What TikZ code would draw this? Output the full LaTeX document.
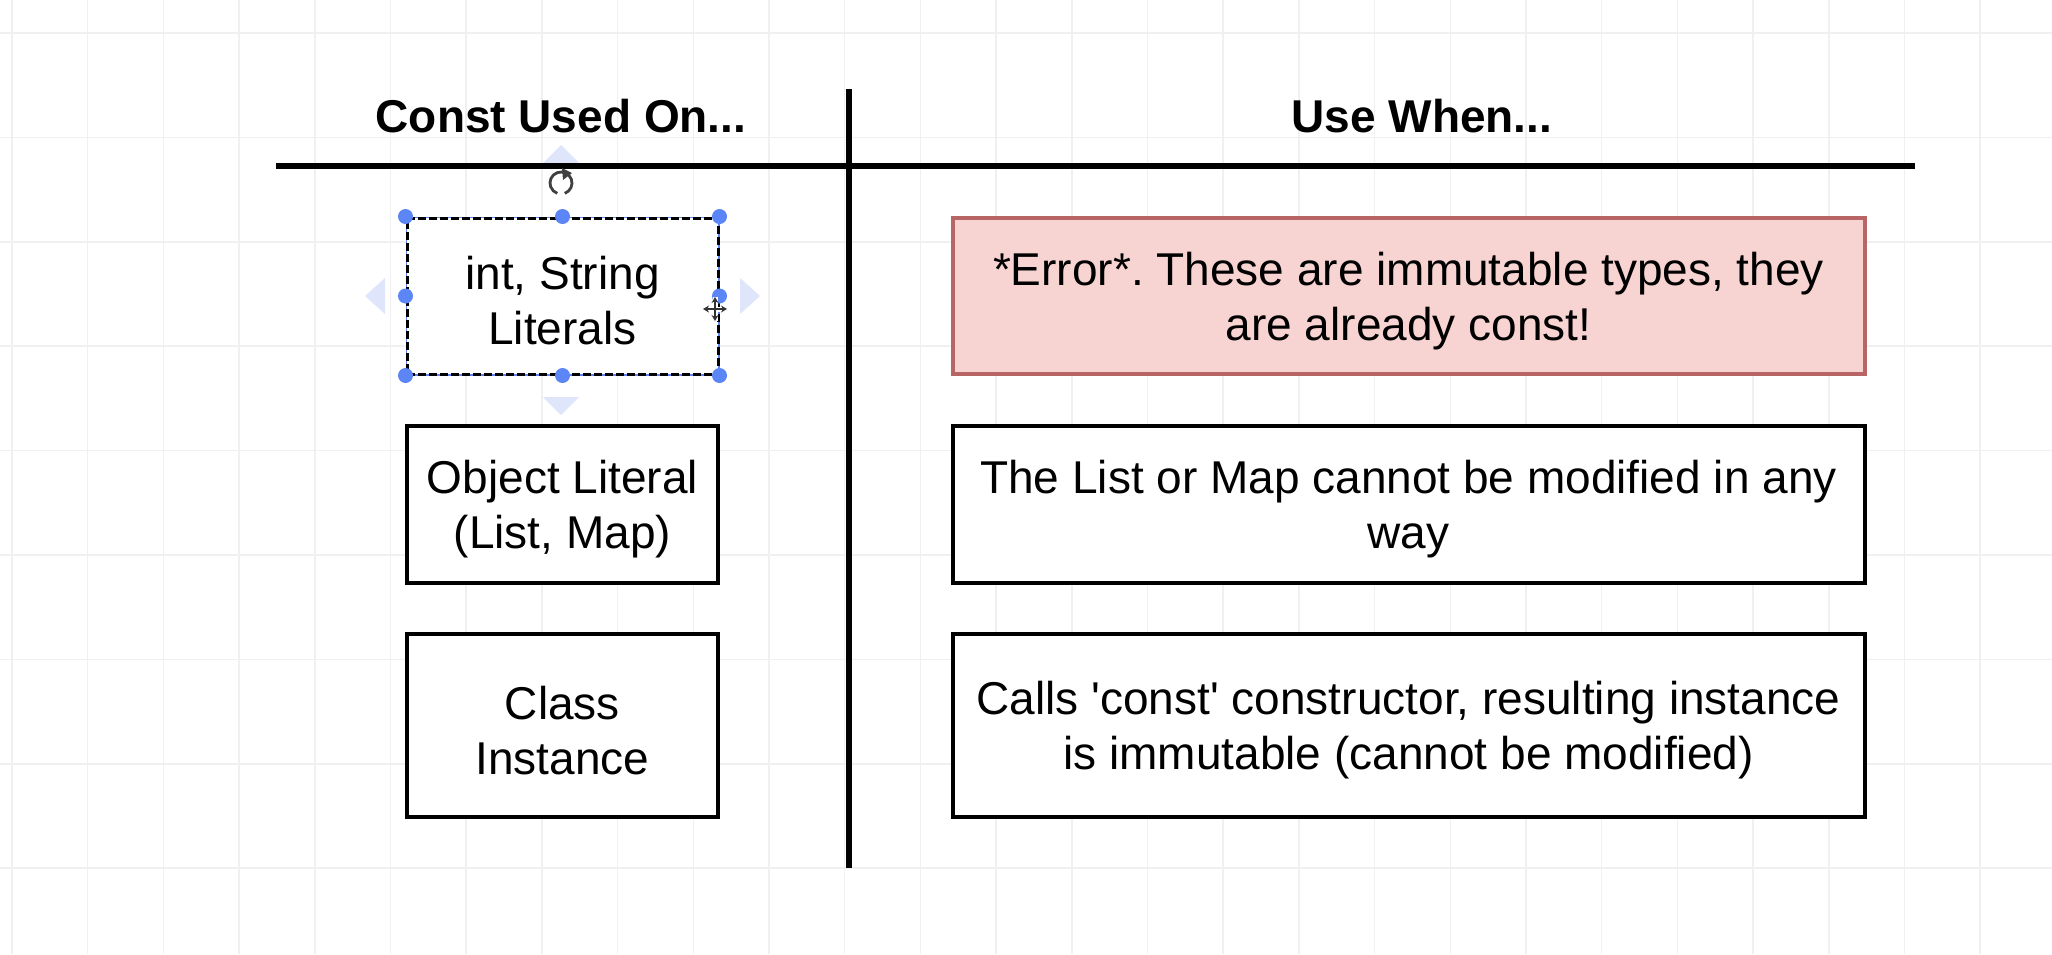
\documentclass[tikz,border=0pt]{standalone}
\usepackage{fontspec}
\newfontfamily\hv{Liberation Sans}
\usetikzlibrary{arrows.meta}
\definecolor{gridc}{HTML}{F0F0F3}
\definecolor{errfill}{HTML}{F7D3D2}
\definecolor{errdraw}{HTML}{B86565}
\definecolor{handle}{HTML}{5C85F5}
\definecolor{ghost}{HTML}{DFE6FB}
\frenchspacing
\begin{document}
\begin{tikzpicture}[x=1pt,y=-1pt,
  cell/.style={draw=black, line width=4pt, fill=white, inner sep=0pt},
  lcell/.style={cell, minimum width=311pt},
  rcell/.style={cell, minimum width=912pt},
  txt/.style={align=center, font=\hv\fontsize{46}{55}\selectfont, inner sep=0pt, yshift=-5pt},
  head/.style={font=\hv\bfseries\fontsize{46}{55}\selectfont, anchor=base, inner sep=0pt},
  rule/.style={line width=6pt, black},
  gridline/.style={gridc, line width=1.5pt},
  ghosttri/.style={fill=ghost},
  dot/.style={circle, fill=handle, minimum size=15pt, inner sep=0pt},
  icon/.style={line width=2.8pt, black!75}
]
\useasboundingbox (0,0) rectangle (2052,954);
\fill[white] (0,0) rectangle (2052,954);
% grid
\foreach \i in {0,...,27} {\draw[gridline] ({12+75.7*\i},0) -- ({12+75.7*\i},954);}
\foreach \j in {0,...,8} {\draw[gridline] (0,{33+104.4*\j}) -- (2052,{33+104.4*\j});}

% ghost arrows around selected shape
\fill[ghosttri] (561,145) -- (543,163) -- (579,163) -- cycle;
\fill[ghosttri] (561,415) -- (543,397) -- (579,397) -- cycle;
\fill[ghosttri] (365,296) -- (385,278) -- (385,314) -- cycle;
\fill[ghosttri] (760,296) -- (740,278) -- (740,314) -- cycle;

% headers and rules
\node[head] (h1) at (561,132) {Const Used On...};
\node[head] (h2) at (1422,132) {Use When...};
\coordinate (hl) at (276,166);
\coordinate (hr) at (1915,166);
\coordinate (vt) at (849,89);
\coordinate (vb) at (849,868);
\draw[rule] (hl) -- (hr);
\draw[rule] (vt) -- (vb);

% left column
\node[lcell, minimum height=156pt, draw=black, line width=3pt, dash pattern=on 8pt off 3pt,
      preaction={draw=handle, line width=3pt, solid}] (l1) at (562.5,296) {};
\node[txt] (l1t) at (l1.center) {int, String\\Literals};
\node[lcell, minimum height=157pt] (l2) at (562.5,504.5) {};
\node[txt] (l2t) at (l2.center) {Object Literal\\(List, Map)};
\node[lcell, minimum height=183pt] (l3) at (562.5,725.5) {};
\node[txt] (l3t) at (l3.center) {Class\\Instance};

% right column
\node[rcell, minimum height=156pt, fill=errfill, draw=errdraw] (r1) at (1408.5,296) {};
\node[txt] (r1t) at (r1.center) {*Error*. These are immutable types, they\\are already const!};
\node[rcell, minimum height=157pt] (r2) at (1408.5,504.5) {};
\node[txt] (r2t) at (r2.center) {The List or Map cannot be modified in any\\way};
\node[rcell, minimum height=183pt] (r3) at (1408.5,725.5) {};
\node[txt] (r3t) at (r3.center) {Calls 'const' constructor, resulting instance\\is immutable (cannot be modified)};

% selection handles
\foreach \a in {north west, north, north east, east, south east, south, south west, west}
  {\node[dot] at (l1.\a) {};}

% rotate icon
\draw[icon] (561,183) ++(70:11) arc (70:-250:11);
\fill[black!75] (562,168) -- (572,173) -- (563,180) -- cycle;

% move cursor
\draw[white, line width=5pt] (703,309) -- (727,309) (715,297) -- (715,321);
\draw[black!80, line width=2pt, {Stealth[length=6pt,width=7pt]}-{Stealth[length=6pt,width=7pt]}] (703,309) -- (727,309);
\draw[black!80, line width=2pt, {Stealth[length=6pt,width=7pt]}-{Stealth[length=6pt,width=7pt]}] (715,297) -- (715,321);
\end{tikzpicture}
\end{document}
